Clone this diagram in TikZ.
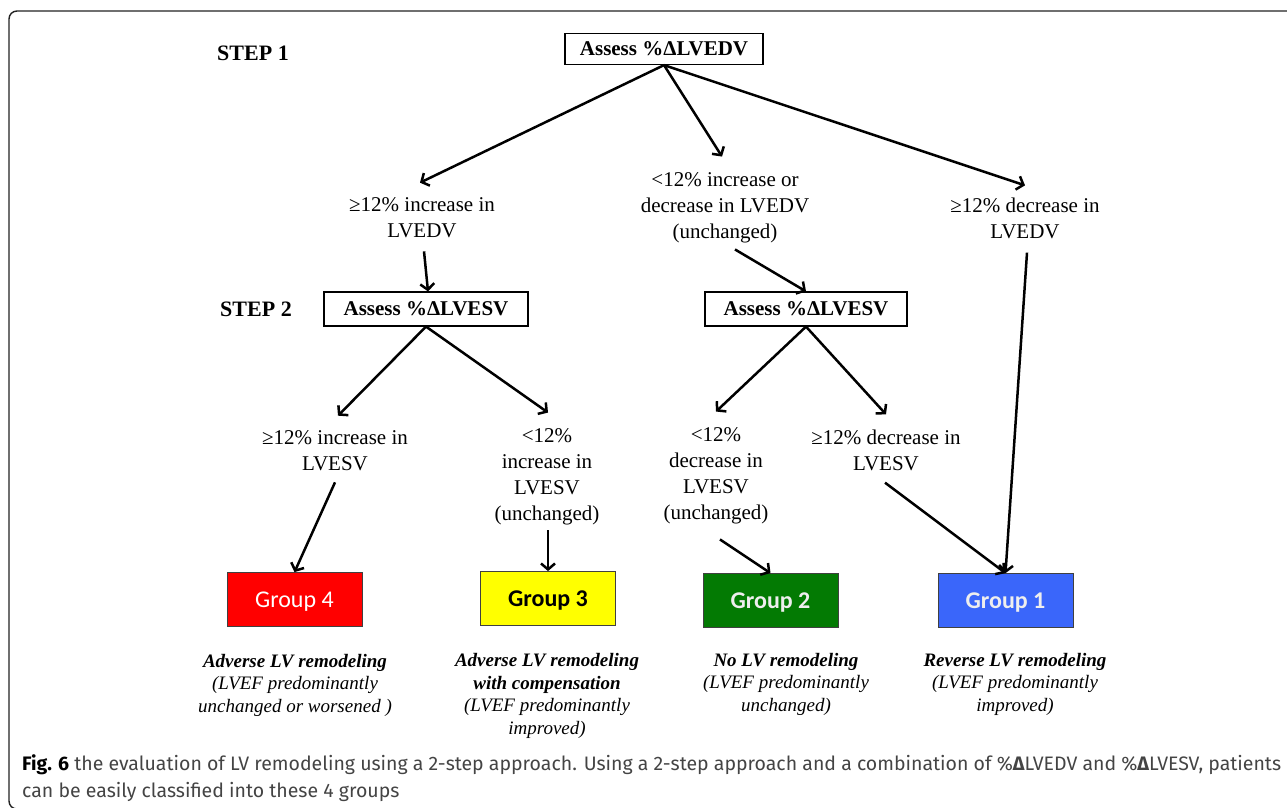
\documentclass[tikz,border=0pt]{standalone}
\usepackage{fontspec}
\setmainfont{Liberation Serif}
\newfontfamily\grpfont{Carlito}
\newfontfamily\capfont{Fira Sans}
\usepackage{xcolor}
\definecolor{red4}{HTML}{FF0000}
\definecolor{yellow3}{HTML}{FFFF00}
\definecolor{green2}{HTML}{037A03}
\definecolor{blue1}{HTML}{3A66FA}
\definecolor{frame1}{HTML}{222222}
\definecolor{capgray}{HTML}{444444}
\definecolor{light1}{HTML}{EEEEEE}
\usetikzlibrary{arrows.meta, positioning}

\begin{document}
\begin{tikzpicture}[
  x=1pt, y=-1pt,
  assess/.style = {draw, fill=white, line width=1.2pt, inner sep=0pt,
                   minimum width=#1, minimum height=31pt,
                   font=\bfseries\fontsize{21}{24}\selectfont},
  assess/.default = 200pt,
  steplbl/.style = {font=\bfseries\fontsize{22}{24}\selectfont, inner sep=0pt},
  lbl/.style    = {align=center, inner sep=0pt,
                   font=\fontsize{21}{26}\selectfont},
  grp/.style    = {fill=#1, draw=black!75, line width=0.8pt,
                   minimum width=135pt, minimum height=54pt, inner sep=0pt,
                   text depth=0pt, font=\grpfont\fontsize{24}{28}\selectfont},
  note/.style   = {align=center, inner sep=0pt,
                   font=\itshape\fontsize{19}{22.5}\selectfont},
  arr/.style    = {line width=2.5pt, -{Straight Barb[length=6pt, width=14pt]}}
]
\useasboundingbox (0,0) rectangle (1287,807);
\clip (0,0) rectangle (1287,807);
\draw[frame1, line width=1.4pt, rounded corners=8pt] (9,11) rectangle (1300,809);

% Step 1
\node[steplbl] (s1) at (253,53) {STEP 1};
\node[assess=198pt] (edv) at (664,49) {Assess \%ΔLVEDV};

\node[lbl] (incEDV)  at (422,218) {≥12\% increase in\\LVEDV};
\node[lbl] (unchEDV) at (725,208) {<12\% increase or\\decrease in LVEDV\\(unchanged)};
\node[lbl] (decEDV)  at (1025,218) {≥12\% decrease in\\LVEDV};

% Step 2
\node[steplbl] (s2) at (256,309) {STEP 2};
\node[assess=204pt, minimum height=34pt] (esvL) at (426,309) {Assess \%ΔLVESV};
\node[assess=202pt, minimum height=34pt] (esvR) at (806,309) {Assess \%ΔLVESV};

\node[lbl] (incESV)   at (335,451) {≥12\% increase in\\LVESV};
\node[lbl] (unchESVa) at (547,477) {<12\%\\increase in\\LVESV\\(unchanged)};
\node[lbl] (unchESVb) at (716,476) {<12\%\\decrease in\\LVESV\\(unchanged)};
\node[lbl] (decESV)   at (886,450) {≥12\% decrease in\\LVESV};

% Groups
\node[grp=red4, text=white]                (g4) at (294.5,599.5) {Group 4};
\node[grp=yellow3, text=black, font=\grpfont\bfseries\fontsize{24}{28}\selectfont]
                                           (g3) at (548,598.5) {Group 3};
\node[grp=green2, text=light1, font=\grpfont\bfseries\fontsize{24}{28}\selectfont]
                                           (g2) at (770.5,600.5) {Group 2};
\node[grp=blue1, text=light1, font=\grpfont\bfseries\fontsize{24}{28}\selectfont]
                                           (g1) at (1005.5,600.5) {Group 1};

\node[note] (n4) at (295,685) {\textbf{Adverse LV remodeling}\\(LVEF predominantly\\unchanged or worsened )};
\node[note] (n3) at (547,696) {\textbf{Adverse LV remodeling}\\\textbf{with compensation}\\(LVEF predominantly\\improved)};
\node[note] (n2) at (786,684) {\textbf{No LV remodeling}\\(LVEF predominantly\\unchanged)};
\node[note] (n1) at (1015,684) {\textbf{Reverse LV remodeling}\\(LVEF predominantly\\improved)};

% Arrows
\draw[arr] (edv.south) -- ([xshift=-2pt, yshift=15pt]incEDV.north);
\draw[arr] (edv.south) -- ([xshift=-3pt, yshift=16pt]unchEDV.north);
\draw[arr] (edv.south) -- ([yshift=12pt]decEDV.north);
\draw[arr] ([xshift=2pt, yshift=-13pt]incEDV.south) -- ([xshift=2pt]esvL.north);
\draw[arr] ([xshift=10pt, yshift=-6pt]unchEDV.south) -- (esvR.north);
\draw[arr] ([xshift=2pt, yshift=-14pt]decEDV.south) -- (g1.north);
\draw[arr] (esvL.south) -- ([xshift=3pt, yshift=15pt]incESV.north);
\draw[arr] (esvL.south) -- ([xshift=1pt, yshift=16pt]unchESVa.north);
\draw[arr] (esvR.south) -- ([yshift=16pt]unchESVb.north);
\draw[arr] (esvR.south) -- ([yshift=15pt]decESV.north);
\draw[arr] ([yshift=-11pt]incESV.south) -- (g4.north);
\draw[arr] ([xshift=1pt, yshift=-5pt]unchESVa.south) -- (g3.north);
\draw[arr] ([xshift=4pt, yshift=-15pt]unchESVb.south) -- (g2.north);
\draw[arr] ([xshift=-1pt, yshift=-12pt]decESV.south) -- (g1.north);

% Caption
\node[anchor=north west, align=left, inner sep=0pt, text=capgray,
      font=\capfont\fontsize{19.5}{27}\selectfont] (cap) at (22,754)
  {{\color{black}\bfseries Fig. 6} the evaluation of LV remodeling using a 2-step approach. Using a 2-step approach and a combination of \%{\bfseries Δ}LVEDV and \%{\bfseries Δ}LVESV, patients\\can be easily classified into these 4 groups};
\end{tikzpicture}
\end{document}
